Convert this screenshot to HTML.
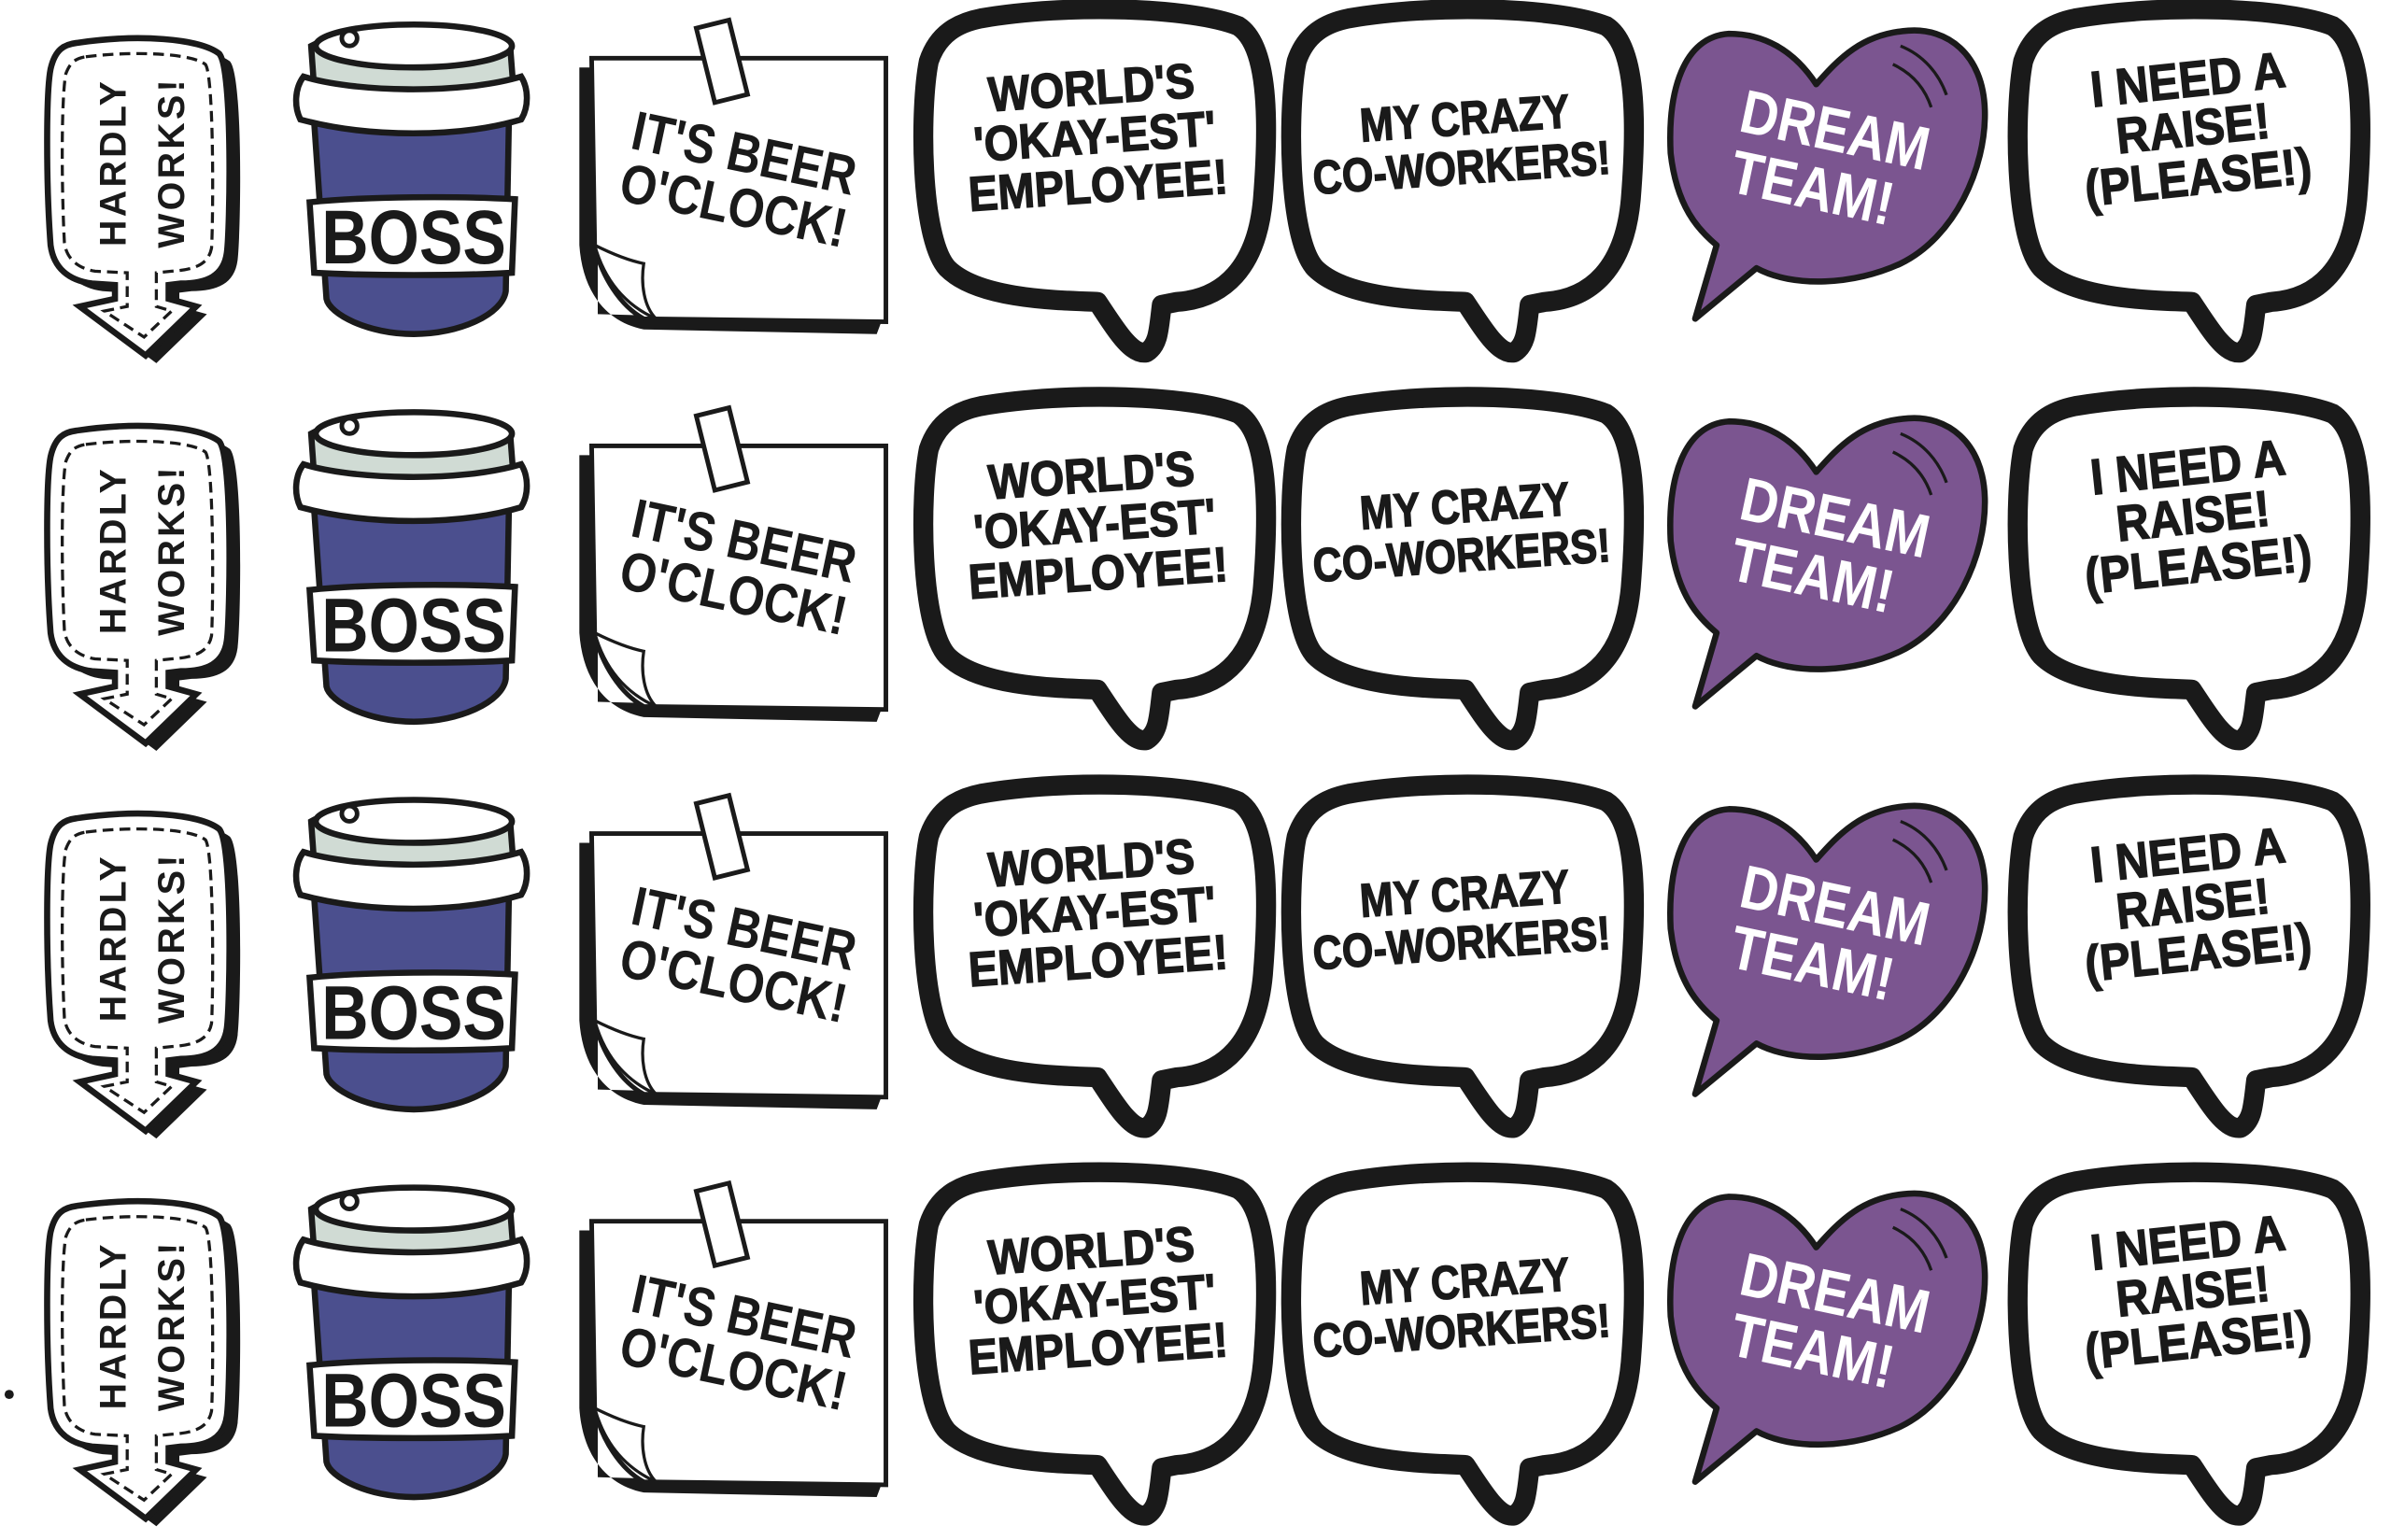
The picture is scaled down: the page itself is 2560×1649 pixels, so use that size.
<!DOCTYPE html>
<html><head><meta charset="utf-8"><style>
html,body{margin:0;padding:0;background:#fff;}
svg{display:block;}
text{font-family:"Liberation Sans",sans-serif;font-weight:bold;}
</style></head><body>
<svg width="2560" height="1649" viewBox="0 0 1560 1005" preserveAspectRatio="none" xmlns="http://www.w3.org/2000/svg">
<rect width="1560" height="1005" fill="#fff"/>
<circle cx="6" cy="910" r="3" fill="#1a1a1a"/>

<!-- ROW 1 -->
<g transform="translate(0,0)">
 <g>
  <path transform="translate(7,5)" fill="#1a1a1a" d="M50,28 C90,22 130,25 143,35 C152,45 150,150 148,165 C146,180 135,185 118,185 L110,186 L110,195 L128,200 L95,232 L52,200 L75,195 L75,186 L60,185 C45,183 35,175 33,160 C30,120 30,60 33,45 C36,32 42,29 50,28 Z"/>
  <path fill="#fff" stroke="#1a1a1a" stroke-width="4" d="M50,28 C90,22 130,25 143,35 C152,45 150,150 148,165 C146,180 135,185 118,185 L110,186 L110,195 L128,200 L95,232 L52,200 L75,195 L75,186 L60,185 C45,183 35,175 33,160 C30,120 30,60 33,45 C36,32 42,29 50,28 Z"/>
  <path fill="none" stroke="#1a1a1a" stroke-width="2" stroke-dasharray="7,4" d="M56,37 C90,33 125,35 134,42 C140,50 139,150 138,162 C136,172 128,176 112,177 L102,178 L102,200 L112,203 L94,220 L68,203 L83,200 L83,178 L62,177 C50,175 43,168 42,158 C40,120 40,62 43,48 C46,40 50,38 56,37 Z"/>
  <text transform="translate(82,106) rotate(-90)" font-size="24" font-weight="normal" text-anchor="middle" fill="#1a1a1a" letter-spacing="2">HARDLY</text>
  <text transform="translate(120,106) rotate(-90)" font-size="24" font-weight="normal" text-anchor="middle" fill="#1a1a1a" letter-spacing="2">WORKS!</text>
 </g>
 <g stroke="#1a1a1a" stroke-width="4">
  <path fill="#4b4f8e" d="M205,80 L332,80 L330,190 C328,205 300,218 270,218 C240,218 215,205 213,195 Z"/>
  <path fill="#fff" d="M202,132 C240,128 300,128 336,130 L334,178 C300,180 240,180 205,178 Z"/>
  <path fill="#d0dbd4" d="M203,30 C230,15 310,15 333,32 L335,58 C300,70 240,70 205,58 Z"/>
  <path fill="#fff" d="M198,50 C230,60 300,62 340,50 C345,58 345,70 340,78 C300,90 240,90 196,78 C192,70 192,58 198,50 Z"/>
  <ellipse cx="270" cy="30" rx="64" ry="14" fill="#fff"/>
  <circle cx="228" cy="25" r="5" fill="#fff" stroke-width="3"/>
 </g>
 <text transform="translate(270,172) scale(0.85,1)" font-size="50" text-anchor="middle" fill="#1a1a1a">BOSS</text>
 <g>
  <path fill="#1a1a1a" d="M378,44 L390,44 L390,205 L575,210 L572,218 L420,215 C395,210 380,190 378,160 Z"/>
  <path fill="#fff" stroke="#1a1a1a" stroke-width="3" d="M386,38 L578,38 L578,210 L420,208 C405,200 392,180 388,160 Z"/>
  <path fill="#fff" stroke="#1a1a1a" stroke-width="2" d="M388,160 C398,165 410,170 420,172 C418,185 420,200 428,208 C410,200 395,185 388,160 Z"/>
  <rect x="460" y="15" width="22" height="50" fill="#fff" stroke="#1a1a1a" stroke-width="3" transform="rotate(-14 471 40)"/>
  <text transform="translate(483,112) rotate(12) scale(0.85,1)" font-size="36" text-anchor="middle" fill="#1a1a1a">IT'S BEER</text>
  <text transform="translate(476,146) rotate(12) scale(0.85,1)" font-size="36" text-anchor="middle" fill="#1a1a1a">O'CLOCK!</text>
 </g>
 <path transform="translate(598,5)" fill="#fff" stroke="#1a1a1a" stroke-width="13" stroke-linejoin="round" d="M42,7 C100,-3 180,0 210,12 C230,25 230,75 226,125 C222,170 200,190 170,192 L160,194 C158,210 158,220 150,225 C140,227 130,210 118,192 C90,191 40,190 20,170 C2,150 2,65 8,35 C14,17 27,10 42,7 Z"/>
 <g transform="translate(715,100) rotate(-4) scale(0.9,1)" fill="#1a1a1a" font-size="32" text-anchor="middle" stroke="#1a1a1a" stroke-width="0.8">
  <text x="0" y="-32">WORLD'S</text><text x="0" y="0">'OKAY-EST'</text><text x="0" y="32">EMPLOYEE!</text>
 </g>
 <path transform="translate(838,5)" fill="#fff" stroke="#1a1a1a" stroke-width="13" stroke-linejoin="round" d="M42,7 C100,-3 180,0 210,12 C230,25 230,75 226,125 C222,170 200,190 170,192 L160,194 C158,210 158,220 150,225 C140,227 130,210 118,192 C90,191 40,190 20,170 C2,150 2,65 8,35 C14,17 27,10 42,7 Z"/>
 <g transform="translate(953,100) rotate(-4) scale(0.85,1)" fill="#1a1a1a" font-size="31" text-anchor="middle" stroke="#1a1a1a" stroke-width="0.8">
  <text x="5" y="-12">MY CRAZY</text><text x="0" y="20">CO-WORKERS!</text>
 </g>
 <g>
  <path fill="#7b5590" stroke="#1a1a1a" stroke-width="4" stroke-linejoin="round" d="M1185,55 C1170,32 1150,22 1128,22 C1098,24 1088,60 1090,100 C1094,135 1108,150 1120,160 L1106,208 L1146,175 C1170,188 1210,186 1240,172 C1275,155 1296,110 1295,72 C1294,35 1270,18 1245,20 C1215,22 1200,38 1185,55 Z"/>
  <path fill="none" stroke="#1a1a1a" stroke-width="2" d="M1240,30 C1255,36 1265,48 1270,62 M1235,42 C1248,48 1256,58 1260,70"/>
  <g transform="translate(1192,110) rotate(12) scale(0.85,1)" fill="#fff" font-size="40" text-anchor="middle">
   <text x="0" y="-12">DREAM</text><text x="-8" y="28">TEAM!</text>
  </g>
 </g>
 <path transform="translate(1312,5)" fill="#fff" stroke="#1a1a1a" stroke-width="13" stroke-linejoin="round" d="M42,7 C100,-3 180,0 210,12 C230,25 230,75 226,125 C222,170 200,190 170,192 L160,194 C158,210 158,220 150,225 C140,227 130,210 118,192 C90,191 40,190 20,170 C2,150 2,65 8,35 C14,17 27,10 42,7 Z"/>
 <g transform="translate(1432,95) rotate(-6) scale(0.9,1)" fill="#1a1a1a" font-size="33" text-anchor="middle" stroke="#1a1a1a" stroke-width="0.8">
  <text x="0" y="-32">I NEED A</text><text x="0" y="0">RAISE!</text><text x="0" y="32">(PLEASE!)</text>
 </g>
</g>

<!-- ROW 2 -->
<g transform="translate(0,253)">
 <g>
  <path transform="translate(7,5)" fill="#1a1a1a" d="M50,28 C90,22 130,25 143,35 C152,45 150,150 148,165 C146,180 135,185 118,185 L110,186 L110,195 L128,200 L95,232 L52,200 L75,195 L75,186 L60,185 C45,183 35,175 33,160 C30,120 30,60 33,45 C36,32 42,29 50,28 Z"/>
  <path fill="#fff" stroke="#1a1a1a" stroke-width="4" d="M50,28 C90,22 130,25 143,35 C152,45 150,150 148,165 C146,180 135,185 118,185 L110,186 L110,195 L128,200 L95,232 L52,200 L75,195 L75,186 L60,185 C45,183 35,175 33,160 C30,120 30,60 33,45 C36,32 42,29 50,28 Z"/>
  <path fill="none" stroke="#1a1a1a" stroke-width="2" stroke-dasharray="7,4" d="M56,37 C90,33 125,35 134,42 C140,50 139,150 138,162 C136,172 128,176 112,177 L102,178 L102,200 L112,203 L94,220 L68,203 L83,200 L83,178 L62,177 C50,175 43,168 42,158 C40,120 40,62 43,48 C46,40 50,38 56,37 Z"/>
  <text transform="translate(82,106) rotate(-90)" font-size="24" font-weight="normal" text-anchor="middle" fill="#1a1a1a" letter-spacing="2">HARDLY</text>
  <text transform="translate(120,106) rotate(-90)" font-size="24" font-weight="normal" text-anchor="middle" fill="#1a1a1a" letter-spacing="2">WORKS!</text>
 </g>
 <g stroke="#1a1a1a" stroke-width="4">
  <path fill="#4b4f8e" d="M205,80 L332,80 L330,190 C328,205 300,218 270,218 C240,218 215,205 213,195 Z"/>
  <path fill="#fff" d="M202,132 C240,128 300,128 336,130 L334,178 C300,180 240,180 205,178 Z"/>
  <path fill="#d0dbd4" d="M203,30 C230,15 310,15 333,32 L335,58 C300,70 240,70 205,58 Z"/>
  <path fill="#fff" d="M198,50 C230,60 300,62 340,50 C345,58 345,70 340,78 C300,90 240,90 196,78 C192,70 192,58 198,50 Z"/>
  <ellipse cx="270" cy="30" rx="64" ry="14" fill="#fff"/>
  <circle cx="228" cy="25" r="5" fill="#fff" stroke-width="3"/>
 </g>
 <text transform="translate(270,172) scale(0.85,1)" font-size="50" text-anchor="middle" fill="#1a1a1a">BOSS</text>
 <g>
  <path fill="#1a1a1a" d="M378,44 L390,44 L390,205 L575,210 L572,218 L420,215 C395,210 380,190 378,160 Z"/>
  <path fill="#fff" stroke="#1a1a1a" stroke-width="3" d="M386,38 L578,38 L578,210 L420,208 C405,200 392,180 388,160 Z"/>
  <path fill="#fff" stroke="#1a1a1a" stroke-width="2" d="M388,160 C398,165 410,170 420,172 C418,185 420,200 428,208 C410,200 395,185 388,160 Z"/>
  <rect x="460" y="15" width="22" height="50" fill="#fff" stroke="#1a1a1a" stroke-width="3" transform="rotate(-14 471 40)"/>
  <text transform="translate(483,112) rotate(12) scale(0.85,1)" font-size="36" text-anchor="middle" fill="#1a1a1a">IT'S BEER</text>
  <text transform="translate(476,146) rotate(12) scale(0.85,1)" font-size="36" text-anchor="middle" fill="#1a1a1a">O'CLOCK!</text>
 </g>
 <path transform="translate(598,5)" fill="#fff" stroke="#1a1a1a" stroke-width="13" stroke-linejoin="round" d="M42,7 C100,-3 180,0 210,12 C230,25 230,75 226,125 C222,170 200,190 170,192 L160,194 C158,210 158,220 150,225 C140,227 130,210 118,192 C90,191 40,190 20,170 C2,150 2,65 8,35 C14,17 27,10 42,7 Z"/>
 <g transform="translate(715,100) rotate(-4) scale(0.9,1)" fill="#1a1a1a" font-size="32" text-anchor="middle" stroke="#1a1a1a" stroke-width="0.8">
  <text x="0" y="-32">WORLD'S</text><text x="0" y="0">'OKAY-EST'</text><text x="0" y="32">EMPLOYEE!</text>
 </g>
 <path transform="translate(838,5)" fill="#fff" stroke="#1a1a1a" stroke-width="13" stroke-linejoin="round" d="M42,7 C100,-3 180,0 210,12 C230,25 230,75 226,125 C222,170 200,190 170,192 L160,194 C158,210 158,220 150,225 C140,227 130,210 118,192 C90,191 40,190 20,170 C2,150 2,65 8,35 C14,17 27,10 42,7 Z"/>
 <g transform="translate(953,100) rotate(-4) scale(0.85,1)" fill="#1a1a1a" font-size="31" text-anchor="middle" stroke="#1a1a1a" stroke-width="0.8">
  <text x="5" y="-12">MY CRAZY</text><text x="0" y="20">CO-WORKERS!</text>
 </g>
 <g>
  <path fill="#7b5590" stroke="#1a1a1a" stroke-width="4" stroke-linejoin="round" d="M1185,55 C1170,32 1150,22 1128,22 C1098,24 1088,60 1090,100 C1094,135 1108,150 1120,160 L1106,208 L1146,175 C1170,188 1210,186 1240,172 C1275,155 1296,110 1295,72 C1294,35 1270,18 1245,20 C1215,22 1200,38 1185,55 Z"/>
  <path fill="none" stroke="#1a1a1a" stroke-width="2" d="M1240,30 C1255,36 1265,48 1270,62 M1235,42 C1248,48 1256,58 1260,70"/>
  <g transform="translate(1192,110) rotate(12) scale(0.85,1)" fill="#fff" font-size="40" text-anchor="middle">
   <text x="0" y="-12">DREAM</text><text x="-8" y="28">TEAM!</text>
  </g>
 </g>
 <path transform="translate(1312,5)" fill="#fff" stroke="#1a1a1a" stroke-width="13" stroke-linejoin="round" d="M42,7 C100,-3 180,0 210,12 C230,25 230,75 226,125 C222,170 200,190 170,192 L160,194 C158,210 158,220 150,225 C140,227 130,210 118,192 C90,191 40,190 20,170 C2,150 2,65 8,35 C14,17 27,10 42,7 Z"/>
 <g transform="translate(1432,95) rotate(-6) scale(0.9,1)" fill="#1a1a1a" font-size="33" text-anchor="middle" stroke="#1a1a1a" stroke-width="0.8">
  <text x="0" y="-32">I NEED A</text><text x="0" y="0">RAISE!</text><text x="0" y="32">(PLEASE!)</text>
 </g>
</g>

<!-- ROW 3 -->
<g transform="translate(0,506)">
 <g>
  <path transform="translate(7,5)" fill="#1a1a1a" d="M50,28 C90,22 130,25 143,35 C152,45 150,150 148,165 C146,180 135,185 118,185 L110,186 L110,195 L128,200 L95,232 L52,200 L75,195 L75,186 L60,185 C45,183 35,175 33,160 C30,120 30,60 33,45 C36,32 42,29 50,28 Z"/>
  <path fill="#fff" stroke="#1a1a1a" stroke-width="4" d="M50,28 C90,22 130,25 143,35 C152,45 150,150 148,165 C146,180 135,185 118,185 L110,186 L110,195 L128,200 L95,232 L52,200 L75,195 L75,186 L60,185 C45,183 35,175 33,160 C30,120 30,60 33,45 C36,32 42,29 50,28 Z"/>
  <path fill="none" stroke="#1a1a1a" stroke-width="2" stroke-dasharray="7,4" d="M56,37 C90,33 125,35 134,42 C140,50 139,150 138,162 C136,172 128,176 112,177 L102,178 L102,200 L112,203 L94,220 L68,203 L83,200 L83,178 L62,177 C50,175 43,168 42,158 C40,120 40,62 43,48 C46,40 50,38 56,37 Z"/>
  <text transform="translate(82,106) rotate(-90)" font-size="24" font-weight="normal" text-anchor="middle" fill="#1a1a1a" letter-spacing="2">HARDLY</text>
  <text transform="translate(120,106) rotate(-90)" font-size="24" font-weight="normal" text-anchor="middle" fill="#1a1a1a" letter-spacing="2">WORKS!</text>
 </g>
 <g stroke="#1a1a1a" stroke-width="4">
  <path fill="#4b4f8e" d="M205,80 L332,80 L330,190 C328,205 300,218 270,218 C240,218 215,205 213,195 Z"/>
  <path fill="#fff" d="M202,132 C240,128 300,128 336,130 L334,178 C300,180 240,180 205,178 Z"/>
  <path fill="#d0dbd4" d="M203,30 C230,15 310,15 333,32 L335,58 C300,70 240,70 205,58 Z"/>
  <path fill="#fff" d="M198,50 C230,60 300,62 340,50 C345,58 345,70 340,78 C300,90 240,90 196,78 C192,70 192,58 198,50 Z"/>
  <ellipse cx="270" cy="30" rx="64" ry="14" fill="#fff"/>
  <circle cx="228" cy="25" r="5" fill="#fff" stroke-width="3"/>
 </g>
 <text transform="translate(270,172) scale(0.85,1)" font-size="50" text-anchor="middle" fill="#1a1a1a">BOSS</text>
 <g>
  <path fill="#1a1a1a" d="M378,44 L390,44 L390,205 L575,210 L572,218 L420,215 C395,210 380,190 378,160 Z"/>
  <path fill="#fff" stroke="#1a1a1a" stroke-width="3" d="M386,38 L578,38 L578,210 L420,208 C405,200 392,180 388,160 Z"/>
  <path fill="#fff" stroke="#1a1a1a" stroke-width="2" d="M388,160 C398,165 410,170 420,172 C418,185 420,200 428,208 C410,200 395,185 388,160 Z"/>
  <rect x="460" y="15" width="22" height="50" fill="#fff" stroke="#1a1a1a" stroke-width="3" transform="rotate(-14 471 40)"/>
  <text transform="translate(483,112) rotate(12) scale(0.85,1)" font-size="36" text-anchor="middle" fill="#1a1a1a">IT'S BEER</text>
  <text transform="translate(476,146) rotate(12) scale(0.85,1)" font-size="36" text-anchor="middle" fill="#1a1a1a">O'CLOCK!</text>
 </g>
 <path transform="translate(598,5)" fill="#fff" stroke="#1a1a1a" stroke-width="13" stroke-linejoin="round" d="M42,7 C100,-3 180,0 210,12 C230,25 230,75 226,125 C222,170 200,190 170,192 L160,194 C158,210 158,220 150,225 C140,227 130,210 118,192 C90,191 40,190 20,170 C2,150 2,65 8,35 C14,17 27,10 42,7 Z"/>
 <g transform="translate(715,100) rotate(-4) scale(0.9,1)" fill="#1a1a1a" font-size="32" text-anchor="middle" stroke="#1a1a1a" stroke-width="0.8">
  <text x="0" y="-32">WORLD'S</text><text x="0" y="0">'OKAY-EST'</text><text x="0" y="32">EMPLOYEE!</text>
 </g>
 <path transform="translate(838,5)" fill="#fff" stroke="#1a1a1a" stroke-width="13" stroke-linejoin="round" d="M42,7 C100,-3 180,0 210,12 C230,25 230,75 226,125 C222,170 200,190 170,192 L160,194 C158,210 158,220 150,225 C140,227 130,210 118,192 C90,191 40,190 20,170 C2,150 2,65 8,35 C14,17 27,10 42,7 Z"/>
 <g transform="translate(953,100) rotate(-4) scale(0.85,1)" fill="#1a1a1a" font-size="31" text-anchor="middle" stroke="#1a1a1a" stroke-width="0.8">
  <text x="5" y="-12">MY CRAZY</text><text x="0" y="20">CO-WORKERS!</text>
 </g>
 <g>
  <path fill="#7b5590" stroke="#1a1a1a" stroke-width="4" stroke-linejoin="round" d="M1185,55 C1170,32 1150,22 1128,22 C1098,24 1088,60 1090,100 C1094,135 1108,150 1120,160 L1106,208 L1146,175 C1170,188 1210,186 1240,172 C1275,155 1296,110 1295,72 C1294,35 1270,18 1245,20 C1215,22 1200,38 1185,55 Z"/>
  <path fill="none" stroke="#1a1a1a" stroke-width="2" d="M1240,30 C1255,36 1265,48 1270,62 M1235,42 C1248,48 1256,58 1260,70"/>
  <g transform="translate(1192,110) rotate(12) scale(0.85,1)" fill="#fff" font-size="40" text-anchor="middle">
   <text x="0" y="-12">DREAM</text><text x="-8" y="28">TEAM!</text>
  </g>
 </g>
 <path transform="translate(1312,5)" fill="#fff" stroke="#1a1a1a" stroke-width="13" stroke-linejoin="round" d="M42,7 C100,-3 180,0 210,12 C230,25 230,75 226,125 C222,170 200,190 170,192 L160,194 C158,210 158,220 150,225 C140,227 130,210 118,192 C90,191 40,190 20,170 C2,150 2,65 8,35 C14,17 27,10 42,7 Z"/>
 <g transform="translate(1432,95) rotate(-6) scale(0.9,1)" fill="#1a1a1a" font-size="33" text-anchor="middle" stroke="#1a1a1a" stroke-width="0.8">
  <text x="0" y="-32">I NEED A</text><text x="0" y="0">RAISE!</text><text x="0" y="32">(PLEASE!)</text>
 </g>
</g>

<!-- ROW 4 -->
<g transform="translate(0,759)">
 <g>
  <path transform="translate(7,5)" fill="#1a1a1a" d="M50,28 C90,22 130,25 143,35 C152,45 150,150 148,165 C146,180 135,185 118,185 L110,186 L110,195 L128,200 L95,232 L52,200 L75,195 L75,186 L60,185 C45,183 35,175 33,160 C30,120 30,60 33,45 C36,32 42,29 50,28 Z"/>
  <path fill="#fff" stroke="#1a1a1a" stroke-width="4" d="M50,28 C90,22 130,25 143,35 C152,45 150,150 148,165 C146,180 135,185 118,185 L110,186 L110,195 L128,200 L95,232 L52,200 L75,195 L75,186 L60,185 C45,183 35,175 33,160 C30,120 30,60 33,45 C36,32 42,29 50,28 Z"/>
  <path fill="none" stroke="#1a1a1a" stroke-width="2" stroke-dasharray="7,4" d="M56,37 C90,33 125,35 134,42 C140,50 139,150 138,162 C136,172 128,176 112,177 L102,178 L102,200 L112,203 L94,220 L68,203 L83,200 L83,178 L62,177 C50,175 43,168 42,158 C40,120 40,62 43,48 C46,40 50,38 56,37 Z"/>
  <text transform="translate(82,106) rotate(-90)" font-size="24" font-weight="normal" text-anchor="middle" fill="#1a1a1a" letter-spacing="2">HARDLY</text>
  <text transform="translate(120,106) rotate(-90)" font-size="24" font-weight="normal" text-anchor="middle" fill="#1a1a1a" letter-spacing="2">WORKS!</text>
 </g>
 <g stroke="#1a1a1a" stroke-width="4">
  <path fill="#4b4f8e" d="M205,80 L332,80 L330,190 C328,205 300,218 270,218 C240,218 215,205 213,195 Z"/>
  <path fill="#fff" d="M202,132 C240,128 300,128 336,130 L334,178 C300,180 240,180 205,178 Z"/>
  <path fill="#d0dbd4" d="M203,30 C230,15 310,15 333,32 L335,58 C300,70 240,70 205,58 Z"/>
  <path fill="#fff" d="M198,50 C230,60 300,62 340,50 C345,58 345,70 340,78 C300,90 240,90 196,78 C192,70 192,58 198,50 Z"/>
  <ellipse cx="270" cy="30" rx="64" ry="14" fill="#fff"/>
  <circle cx="228" cy="25" r="5" fill="#fff" stroke-width="3"/>
 </g>
 <text transform="translate(270,172) scale(0.85,1)" font-size="50" text-anchor="middle" fill="#1a1a1a">BOSS</text>
 <g>
  <path fill="#1a1a1a" d="M378,44 L390,44 L390,205 L575,210 L572,218 L420,215 C395,210 380,190 378,160 Z"/>
  <path fill="#fff" stroke="#1a1a1a" stroke-width="3" d="M386,38 L578,38 L578,210 L420,208 C405,200 392,180 388,160 Z"/>
  <path fill="#fff" stroke="#1a1a1a" stroke-width="2" d="M388,160 C398,165 410,170 420,172 C418,185 420,200 428,208 C410,200 395,185 388,160 Z"/>
  <rect x="460" y="15" width="22" height="50" fill="#fff" stroke="#1a1a1a" stroke-width="3" transform="rotate(-14 471 40)"/>
  <text transform="translate(483,112) rotate(12) scale(0.85,1)" font-size="36" text-anchor="middle" fill="#1a1a1a">IT'S BEER</text>
  <text transform="translate(476,146) rotate(12) scale(0.85,1)" font-size="36" text-anchor="middle" fill="#1a1a1a">O'CLOCK!</text>
 </g>
 <path transform="translate(598,5)" fill="#fff" stroke="#1a1a1a" stroke-width="13" stroke-linejoin="round" d="M42,7 C100,-3 180,0 210,12 C230,25 230,75 226,125 C222,170 200,190 170,192 L160,194 C158,210 158,220 150,225 C140,227 130,210 118,192 C90,191 40,190 20,170 C2,150 2,65 8,35 C14,17 27,10 42,7 Z"/>
 <g transform="translate(715,100) rotate(-4) scale(0.9,1)" fill="#1a1a1a" font-size="32" text-anchor="middle" stroke="#1a1a1a" stroke-width="0.8">
  <text x="0" y="-32">WORLD'S</text><text x="0" y="0">'OKAY-EST'</text><text x="0" y="32">EMPLOYEE!</text>
 </g>
 <path transform="translate(838,5)" fill="#fff" stroke="#1a1a1a" stroke-width="13" stroke-linejoin="round" d="M42,7 C100,-3 180,0 210,12 C230,25 230,75 226,125 C222,170 200,190 170,192 L160,194 C158,210 158,220 150,225 C140,227 130,210 118,192 C90,191 40,190 20,170 C2,150 2,65 8,35 C14,17 27,10 42,7 Z"/>
 <g transform="translate(953,100) rotate(-4) scale(0.85,1)" fill="#1a1a1a" font-size="31" text-anchor="middle" stroke="#1a1a1a" stroke-width="0.8">
  <text x="5" y="-12">MY CRAZY</text><text x="0" y="20">CO-WORKERS!</text>
 </g>
 <g>
  <path fill="#7b5590" stroke="#1a1a1a" stroke-width="4" stroke-linejoin="round" d="M1185,55 C1170,32 1150,22 1128,22 C1098,24 1088,60 1090,100 C1094,135 1108,150 1120,160 L1106,208 L1146,175 C1170,188 1210,186 1240,172 C1275,155 1296,110 1295,72 C1294,35 1270,18 1245,20 C1215,22 1200,38 1185,55 Z"/>
  <path fill="none" stroke="#1a1a1a" stroke-width="2" d="M1240,30 C1255,36 1265,48 1270,62 M1235,42 C1248,48 1256,58 1260,70"/>
  <g transform="translate(1192,110) rotate(12) scale(0.85,1)" fill="#fff" font-size="40" text-anchor="middle">
   <text x="0" y="-12">DREAM</text><text x="-8" y="28">TEAM!</text>
  </g>
 </g>
 <path transform="translate(1312,5)" fill="#fff" stroke="#1a1a1a" stroke-width="13" stroke-linejoin="round" d="M42,7 C100,-3 180,0 210,12 C230,25 230,75 226,125 C222,170 200,190 170,192 L160,194 C158,210 158,220 150,225 C140,227 130,210 118,192 C90,191 40,190 20,170 C2,150 2,65 8,35 C14,17 27,10 42,7 Z"/>
 <g transform="translate(1432,95) rotate(-6) scale(0.9,1)" fill="#1a1a1a" font-size="33" text-anchor="middle" stroke="#1a1a1a" stroke-width="0.8">
  <text x="0" y="-32">I NEED A</text><text x="0" y="0">RAISE!</text><text x="0" y="32">(PLEASE!)</text>
 </g>
</g>
</svg>
</body></html>
